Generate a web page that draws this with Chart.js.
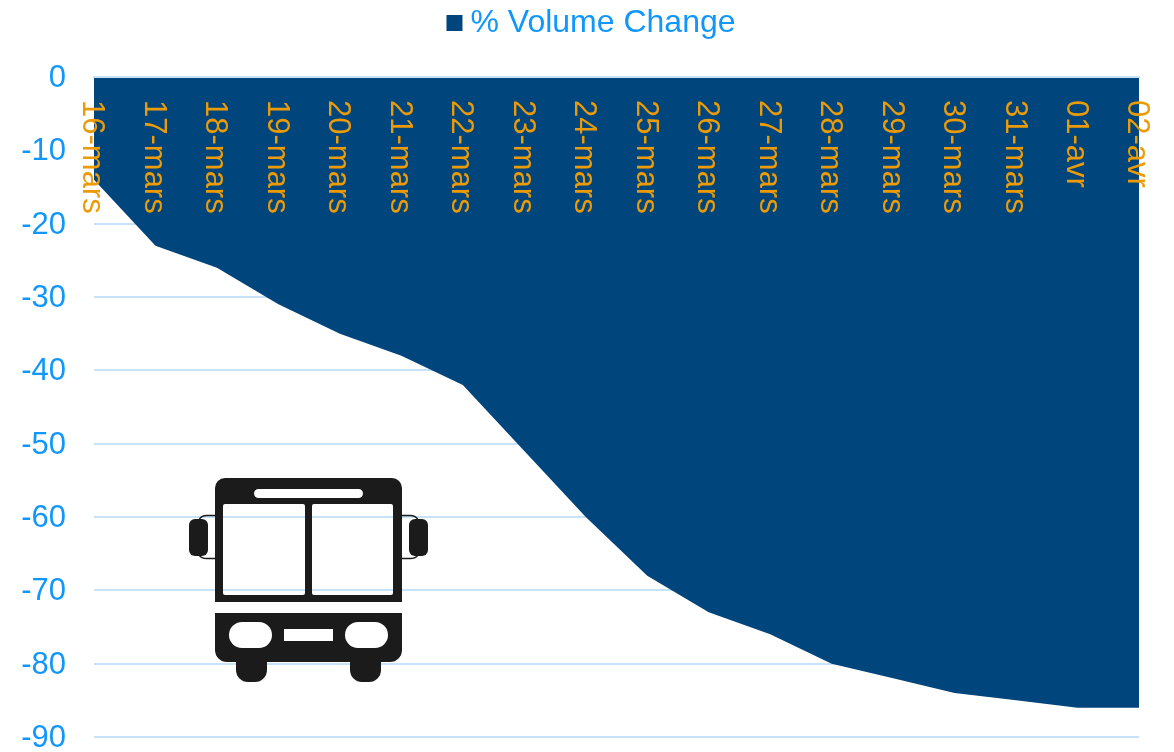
<!DOCTYPE html>
<html>
<head>
<meta charset="utf-8">
<title>% Volume Change</title>
<script src="https://cdn.jsdelivr.net/npm/chart.js@4"></script>
<style>
  html, body { margin: 0; padding: 0; background: #fff; overflow: hidden; }
  .chart { position: relative; width: 1174px; height: 752px; }
  #bus { position: absolute; left: 0; top: 0; pointer-events: none; }
</style>
</head>
<body>
<div class="chart">
  <canvas id="chart"></canvas>
  <!-- bus icon, windows are holes so the grid lines show through -->
  <svg id="bus" width="1174" height="752" viewBox="0 0 1174 752">
    <path fill="#1b1b1b" fill-rule="evenodd" d="M225 478H392A10 10 0 0 1 402 488V602H215V488A10 10 0 0 1 225 478Z
      M258.500 489A4.500 4.500 0 0 0 258.500 498H358.500A4.500 4.500 0 0 0 358.500 489Z
      M225 504A2 2 0 0 0 223 506V593A2 2 0 0 0 225 595H303A2 2 0 0 0 305 593V506A2 2 0 0 0 303 504Z
      M314 504A2 2 0 0 0 312 506V593A2 2 0 0 0 314 595H391A2 2 0 0 0 393 593V506A2 2 0 0 0 391 504Z"/>
    <path fill="#1b1b1b" fill-rule="evenodd" d="M215 613H402V650A12 12 0 0 1 390 662H381V670A12 12 0 0 1 369 682H362A12 12 0 0 1 350 670V662H267V670A12 12 0 0 1 255 682H248A12 12 0 0 1 236 670V662H227A12 12 0 0 1 215 650Z
      M242 622A13 13 0 0 0 242 648H259A13 13 0 0 0 259 622Z
      M358 622A13 13 0 0 0 358 648H375A13 13 0 0 0 375 622Z
      M284 629V641H333V629Z"/>
    <rect x="189" y="519" width="19" height="37" rx="6" fill="#1b1b1b"/>
    <rect x="409" y="519" width="19" height="37" rx="6" fill="#1b1b1b"/>
    <path fill="none" stroke="#1b1b1b" stroke-width="1.500" d="M215 515.500H207Q201 515.500 199 520M215 558.500H207Q201 558.500 199 555"/>
    <path fill="none" stroke="#1b1b1b" stroke-width="1.500" d="M402 515.500H410Q416 515.500 418 520M402 558.500H410Q416 558.500 418 555"/>
  </svg>
</div>
<script>
const labels = ["16-mars", "17-mars", "18-mars", "19-mars", "20-mars", "21-mars", "22-mars", "23-mars", "24-mars",
  "25-mars", "26-mars", "27-mars", "28-mars", "29-mars", "30-mars", "31-mars", "01-avr", "02-avr"];
const volumeChange = [-14, -23, -26, -31, -35, -38, -42, -51, -60, -68, -73, -76, -80, -82, -84, -85, -86, -86];

const fontFamily = '"Liberation Sans", Arial, sans-serif';

new Chart(document.getElementById("chart"), {
  type: "line",
  data: {
    labels: labels,
    datasets: [{
      label: "% Volume Change",
      data: volumeChange,
      fill: "origin",
      tension: 0,
      borderWidth: 0,
      pointRadius: 0,
      pointStyle: "rect",
      borderColor: "#00457c",
      backgroundColor: "#00457c",
    }]
  },
  options: {
    responsive: true,
    maintainAspectRatio: false,
    animation: false,
    layout: { padding: { left: 16, right: 0, top: 0, bottom: 15 } },
    plugins: {
      tooltip: { enabled: false },
      legend: {
        position: "top",
        labels: {
          // point style with almost no width keeps the marker close to the text
          usePointStyle: true,
          boxWidth: 0.01,
          boxHeight: 16,
          padding: 7,
          color: "#1196fb",
          font: { family: fontFamily, size: 32 },
        }
      }
    },
    scales: {
      x: {
        position: "top",
        offset: false,
        grid: { display: false },
        // the zero line stays visible on top of the area
        border: { display: true, color: "#c6e3fa", width: 2, z: 1 },
        // labels sit inside the plot, so the axis only sets the gap under the legend
        afterFit: (scale) => {
          scale.height = 28;
          scale.paddingLeft = 0;
          scale.paddingRight = 35;
        },
        ticks: {
          z: 1,
          mirror: true,
          autoSkip: false,
          minRotation: -90,
          maxRotation: -90,
          padding: 23,
          labelOffset: -2,
          color: "#ec9b08",
          font: { family: fontFamily, size: 31 },
        }
      },
      y: {
        min: -90,
        max: 0,
        afterFit: (scale) => {
          scale.width = 78;
          scale.paddingTop = 0;
          scale.paddingBottom = 0;
        },
        grid: { color: "#c6e3fa", lineWidth: 2, drawTicks: false },
        border: { display: false },
        ticks: {
          stepSize: 10,
          padding: 28,
          labelOffset: 1.5,
          color: "#1196fb",
          font: { family: fontFamily, size: 31 },
        }
      }
    }
  }
});
</script>
</body>
</html>
